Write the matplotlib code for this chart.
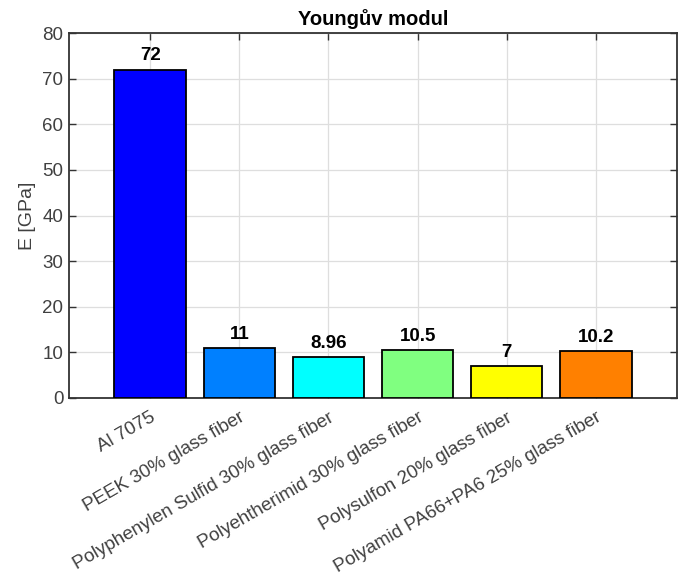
import matplotlib
matplotlib.use("Agg")
import matplotlib.pyplot as plt
import matplotlib.transforms as mtransforms
import numpy as np

materials = [
    "Al 7075",
    "PEEK 30% glass fiber",
    "Polyphenylen Sulfid 30% glass fiber",
    "Polyehtherimid 30% glass fiber",
    "Polysulfon 20% glass fiber",
    "Polyamid PA66+PA6 25% glass fiber",
]
modulus = [72, 11, 8.96, 10.5, 7, 10.2]
value_labels = ["72", "11", "8.96", "10.5", "7", "10.2"]
bar_colors = ["#0000ff", "#0080ff", "#00ffff", "#80ff80", "#ffff00", "#ff8000"]
y_ticks = [0, 10, 20, 30, 40, 50, 60, 70, 80]

plt.rcParams["font.family"] = ["Liberation Sans", "DejaVu Sans"]

fig = plt.figure(figsize=(6.86, 5.77), dpi=100)
ax = fig.add_axes([69 / 686, 1 - 398 / 577, (677 - 69) / 686, (398 - 33) / 577])

x = np.arange(1, len(materials) + 1)
ax.bar(x, modulus, width=0.8, color=bar_colors, edgecolor="black",
       linewidth=1.3, zorder=3)

for xi, v, lbl in zip(x, modulus, value_labels):
    ax.text(xi, v + 1.1, lbl, ha="center", va="bottom", fontsize=13.5,
            fontweight="bold", color="black", zorder=4)

ax.set_xlim(0.09, 6.91)
ax.set_ylim(0, 80)
ax.set_yticks(y_ticks)
ax.set_xticks(x)
ax.set_xticklabels(materials, rotation=30, ha="right", va="top",
                   rotation_mode="anchor")

# nudge the slanted category labels a little to the right of their ticks
shift = mtransforms.ScaledTranslation(12 / 100, -3 / 100, fig.dpi_scale_trans)
for lab in ax.get_xticklabels():
    lab.set_transform(lab.get_transform() + shift)

ax.grid(True, color="#dedede", linewidth=0.9, zorder=0)
ax.set_axisbelow(True)
ax.tick_params(direction="in", length=5, width=1, colors="#333333",
               labelcolor="#404040", labelsize=13.5, top=True, right=True,
               pad=4)
ax.tick_params(axis="x", pad=8)
for s in ax.spines.values():
    s.set_color("#333333")
    s.set_linewidth(1.3)

ax.set_ylabel("E [GPa]", fontsize=14, color="#404040", labelpad=5)
ax.set_title("Youngův modul", fontsize=14.5, fontweight="bold", pad=6)

fig.savefig("out.png", dpi=100, facecolor="white")
